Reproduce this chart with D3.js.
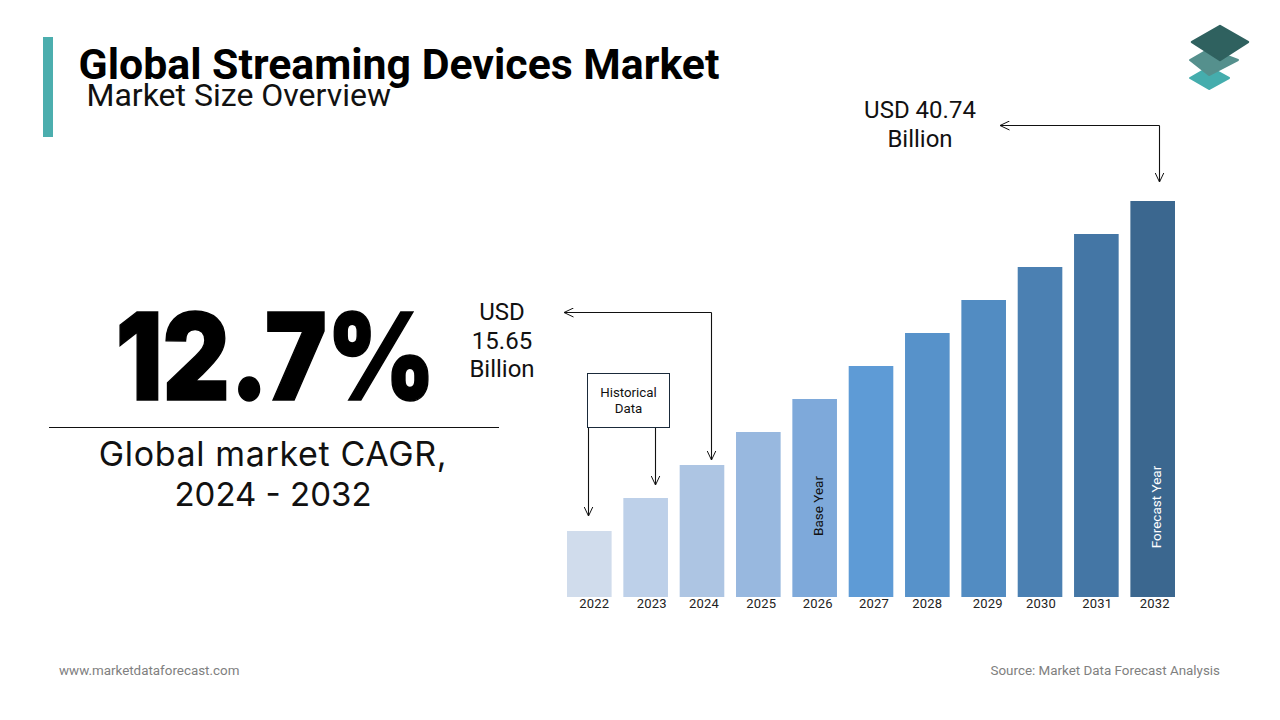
<!DOCTYPE html>
<html>
<head>
<meta charset="utf-8">
<script src="https://cdn.jsdelivr.net/npm/d3@7"></script>
<style>
  html, body { margin: 0; padding: 0; background: #fff; }
  svg { display: block; }
  text { font-family: Roboto, sans-serif; }
</style>
</head>
<body>
<div id="chart"></div>
<script>
// values (bar height in relative units, the source draws them evenly stepped)
var years = ["2022","2023","2024","2025","2026","2027","2028","2029","2030","2031","2032"];
var barValues = [2,3,4,5,6,7,8,9,10,11,12];
var barColors = ["#d0dcec","#bdd0e9","#adc5e3","#98b8df","#7ea9da","#5e9bd6","#5792ca","#528cc2","#4b80b2","#4476a5","#3b678f"];
var yearOffsets = [5,6,2,3,3,3,0,4,1,1,2];

var width = 1280, height = 720;

var svg = d3.select("#chart").append("svg")
    .attr("width", width)
    .attr("height", height);

var defs = svg.append("defs");
var marker = defs.append("marker")
    .attr("id", "arrow")
    .attr("viewBox", "0 0 10 10")
    .attr("refX", 9.5).attr("refY", 5)
    .attr("markerUnits", "userSpaceOnUse")
    .attr("markerWidth", 10).attr("markerHeight", 10)
    .attr("orient", "auto");
marker.append("path")
    .attr("d", "M0,0.5 L9.5,5 L0,9.5")
    .attr("fill", "none")
    .attr("stroke", "#111")
    .attr("stroke-width", 1);

// scales
var x = d3.scaleBand().domain(years).range([567, 1175]).paddingInner(0.208).paddingOuter(0);
var y = d3.scaleLinear().domain([0, 12]).range([597, 201]);

// header
svg.append("rect").attr("x", 43).attr("y", 37).attr("width", 10).attr("height", 100).attr("fill", "#4caeae");

svg.append("text")
    .attr("x", 78.5).attr("y", 79)
    .attr("font-size", 42.8).attr("font-weight", 700).attr("fill", "#000")
    .text("Global Streaming Devices Market");

svg.append("text")
    .attr("x", 86.5).attr("y", 106)
    .attr("font-size", 32).attr("fill", "#111")
    .text("Market Size Overview");

// logo
var logo = svg.append("g");
logo.append("path").attr("d", "M1209,67 L1229,78 L1209,89 L1190,78 Z").attr("fill", "#45adad").attr("stroke", "#45adad").attr("stroke-width", 2).attr("stroke-linejoin", "round");
logo.append("path").attr("d", "M1209,49 L1238,60 L1209,75 L1190,60 Z").attr("fill", "#55908d").attr("stroke", "#55908d").attr("stroke-width", 2).attr("stroke-linejoin", "round");
logo.append("path").attr("d", "M1220,26 L1248,42 L1220,60 L1192,42 Z").attr("fill", "#2f615f").attr("stroke", "#2f615f").attr("stroke-width", 2.5).attr("stroke-linejoin", "round");

// left panel
svg.append("text")
    .attr("x", 275.5).attr("y", 399.5)
    .attr("text-anchor", "middle")
    .attr("font-size", 121).attr("font-weight", 900).attr("fill", "#000")
    .attr("stroke", "#000").attr("stroke-width", 1.5)
    .attr("textLength", 320).attr("lengthAdjust", "spacingAndGlyphs")
    .style("font-family", "Inter")
    .text("12.7%");

svg.append("line").attr("x1", 49).attr("x2", 499).attr("y1", 427.5).attr("y2", 427.5).attr("stroke", "#111").attr("stroke-width", 1);

var cagrLines = ["Global market CAGR,", "2024 - 2032"];
var cagrSizes = [34, 33];
var cagrSpacing = [0.65, 0];
svg.selectAll("text.cagr").data(cagrLines).enter().append("text")
    .classed("cagr", true)
    .attr("x", 273)
    .attr("y", function(d, i) { return 466 + i * 39.5; })
    .attr("text-anchor", "middle")
    .attr("font-size", function(d, i) { return cagrSizes[i]; })
    .attr("fill", "#111")
    .attr("letter-spacing", function(d, i) { return cagrSpacing[i]; })
    .style("font-family", "Inter")
    .text(function(d) { return d; });

// bars
svg.selectAll("rect.bar").data(years).enter().append("rect")
    .classed("bar", true)
    .attr("x", function(d) { return x(d); })
    .attr("y", function(d, i) { return y(barValues[i]); })
    .attr("width", x.bandwidth())
    .attr("height", function(d, i) { return y(0) - y(barValues[i]); })
    .attr("fill", function(d, i) { return barColors[i]; });

// year axis
var axis = svg.append("g")
    .attr("transform", "translate(0,597)")
    .call(d3.axisBottom(x).tickSize(0).tickPadding(2));
axis.select(".domain").remove();
axis.selectAll("text")
    .attr("dx", function(d, i) { return yearOffsets[i]; })
    .attr("font-size", 13)
    .attr("letter-spacing", 0.2)
    .attr("fill", "#222")
    .style("font-family", "Roboto");

// labels inside bars
function barLabel(year, cy, txt, color) {
    svg.append("text")
        .attr("transform", "translate(" + (x(year) + x.bandwidth() / 2 + 8) + "," + cy + ") rotate(-90)")
        .attr("text-anchor", "middle")
        .attr("font-size", 13.5).attr("fill", color)
        .text(txt);
}
barLabel("2026", 506, "Base Year", "#111");
barLabel("2032", 507, "Forecast Year", "#fff");

// callouts
function callout(points) {
    svg.append("path")
        .attr("d", d3.line()(points))
        .attr("fill", "none")
        .attr("stroke", "#111").attr("stroke-width", 1.1)
        .attr("marker-end", "url(#arrow)");
}
callout([[1159.5, 125.5], [1159.5, 182]]);
callout([[1159.5, 125.5], [1000, 125.5]]);
callout([[711.5, 312.5], [711.5, 460]]);
callout([[711.5, 312.5], [564, 312.5]]);
callout([[588.5, 428], [588.5, 516]]);
callout([[655.5, 428], [655.5, 485]]);

function multiLine(lines, cx, y0, lh, size) {
    lines.forEach(function(t, i) {
        svg.append("text")
            .attr("x", cx).attr("y", y0 + i * lh)
            .attr("text-anchor", "middle")
            .attr("font-size", size).attr("fill", "#111")
            .text(t);
    });
}
multiLine(["USD 40.74", "Billion"], 920, 118, 29, 24);
multiLine(["USD", "15.65", "Billion"], 502, 320, 28.5, 24);

svg.append("rect").attr("x", 587.5).attr("y", 373.5).attr("width", 82).attr("height", 54)
    .attr("fill", "#fff").attr("stroke", "#1a2a3a").attr("stroke-width", 1);
multiLine(["Historical", "Data"], 628.5, 397, 16, 13.3);

// footer
svg.append("text").attr("x", 59).attr("y", 675).attr("font-size", 13.4).attr("fill", "#808080").text("www.marketdataforecast.com");
svg.append("text").attr("x", 1220).attr("y", 675).attr("text-anchor", "end").attr("font-size", 13.4).attr("fill", "#808080").text("Source: Market Data Forecast Analysis");
</script>
</body>
</html>
